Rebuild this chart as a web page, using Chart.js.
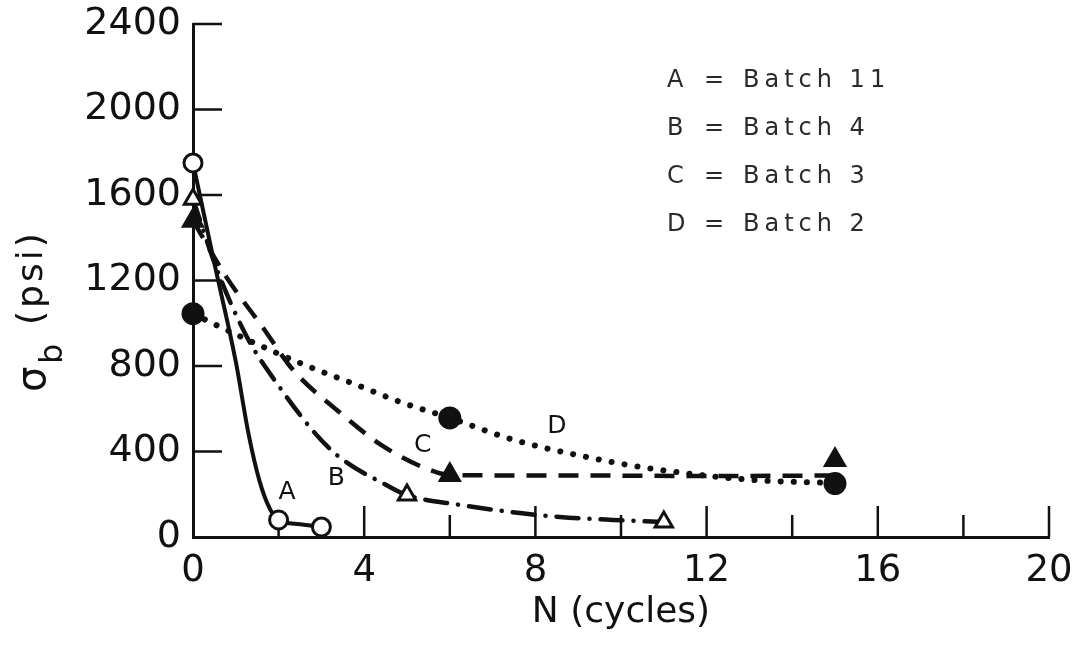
<!DOCTYPE html>
<html>
<head>
<meta charset="utf-8">
<script src="https://cdn.jsdelivr.net/npm/chart.js@4.4.1/dist/chart.umd.min.js"></script>
<style>
  body { margin: 0; background: #fff; }
  canvas { display: block; }
</style>
</head>
<body>
<canvas id="chart" width="1085" height="651"></canvas>
<script>
// curve keys and what they stand for
const seriesKeys = ['A', 'B', 'C', 'D'];
const batchNames = ['Batch 11', 'Batch 4', 'Batch 3', 'Batch 2'];

// measured points (markers), N in cycles, sigma_b in psi
const pointsA = [{x: 0, y: 1750}, {x: 2, y: 80}, {x: 3, y: 47}];
const pointsB = [{x: 0, y: 1580}, {x: 5, y: 196}, {x: 11, y: 70}];
const pointsC = [{x: 0, y: 1480}, {x: 6, y: 290}, {x: 15, y: 360}];
const pointsD = [{x: 0, y: 1045}, {x: 6, y: 557}, {x: 15, y: 250}];

// fitted curves
const curveA = [{x: 0, y: 1750}, {x: 0.5, y: 1280}, {x: 1.0, y: 820}, {x: 1.3, y: 480},
  {x: 1.55, y: 265}, {x: 1.8, y: 130}, {x: 2, y: 80}, {x: 2.5, y: 60}, {x: 3, y: 47}];
const curveB = [{x: 0, y: 1580}, {x: 0.6, y: 1230}, {x: 1.26, y: 936}, {x: 1.87, y: 744},
  {x: 3.2, y: 412}, {x: 4.6, y: 234}, {x: 5, y: 196}, {x: 6.24, y: 150}, {x: 7.64, y: 112},
  {x: 8.57, y: 94}, {x: 9.8, y: 80}, {x: 11, y: 70}];
const curveC = [{x: 0, y: 1480}, {x: 0.8, y: 1210}, {x: 1.64, y: 978}, {x: 2.34, y: 781},
  {x: 3.36, y: 594}, {x: 4.44, y: 425}, {x: 5.54, y: 313}, {x: 6, y: 290}, {x: 8, y: 288},
  {x: 10, y: 287}, {x: 12, y: 285}, {x: 15, y: 288}];
const curveD = [{x: 0, y: 1045}, {x: 0.63, y: 983}, {x: 2.5, y: 814}, {x: 3.83, y: 711},
  {x: 4.84, y: 632}, {x: 6, y: 557}, {x: 7.5, y: 454}, {x: 9.2, y: 374}, {x: 10.6, y: 323},
  {x: 13, y: 268}, {x: 15, y: 252}];

// where the curve letters sit, in data units
const curveLabelPos = [{x: 2.2, y: 210}, {x: 3.35, y: 276}, {x: 5.37, y: 426}, {x: 8.5, y: 515}];

// axis ticks
const xMajorTicks = [4, 8, 12, 16, 20];
const xMinorTicks = [2, 6, 10, 14, 18];
const yTicks = [400, 800, 1200, 1600, 2000, 2400];

const FONT = "'DejaVu Sans', 'Liberation Sans', sans-serif";
const INK = '#111';

const inwardTicks = {
  id: 'inwardTicks',
  beforeDatasetsDraw(chart) {
    const {ctx, scales: {x, y}} = chart;
    ctx.save();
    ctx.strokeStyle = INK;
    ctx.lineWidth = 2.5;
    ctx.beginPath();
    xMajorTicks.forEach(v => {
      const px = x.getPixelForValue(v);
      ctx.moveTo(px, y.bottom);
      ctx.lineTo(px, y.bottom - 31);
    });
    xMinorTicks.forEach(v => {
      const px = x.getPixelForValue(v);
      ctx.moveTo(px, y.bottom);
      ctx.lineTo(px, y.bottom - 22);
    });
    yTicks.forEach(v => {
      const py = y.getPixelForValue(v);
      ctx.moveTo(x.left, py);
      ctx.lineTo(x.left + 29, py);
    });
    ctx.stroke();
    ctx.restore();
  }
};

const textBits = {
  id: 'textBits',
  afterDraw(chart) {
    const {ctx, scales: {x, y}} = chart;
    ctx.save();
    ctx.fillStyle = INK;

    // letters next to the curves
    ctx.font = '25px ' + FONT;
    ctx.textAlign = 'center';
    ctx.textBaseline = 'middle';
    seriesKeys.forEach((k, i) => {
      const p = curveLabelPos[i];
      ctx.fillText(k, x.getPixelForValue(p.x), y.getPixelForValue(p.y));
    });

    // key in the upper right
    ctx.fillStyle = '#2a2a2a';
    ctx.font = '24px ' + FONT;
    ctx.textAlign = 'left';
    ctx.textBaseline = 'alphabetic';
    seriesKeys.forEach((k, i) => {
      const base = 87 + i * 48;
      ctx.letterSpacing = '0px';
      ctx.fillText(k, 667, base);
      ctx.fillText('=', 704, base);
      ctx.letterSpacing = '5px';
      ctx.fillText(batchNames[i], 743, base);
    });

    // y title: sigma with subscript b, then (psi)
    ctx.fillStyle = INK;
    ctx.letterSpacing = '0px';
    ctx.rotate(-Math.PI / 2);
    ctx.font = '40px ' + FONT;
    ctx.fillText('σ', -392, 45);
    ctx.font = '32px ' + FONT;
    ctx.fillText('b', -364, 62);
    ctx.font = '36px ' + FONT;
    ctx.letterSpacing = '3px';
    ctx.fillText('(psi)', -325, 42);
    ctx.restore();
  }
};

const lineSet = (data, dash, cap, width) => ({
  type: 'line',
  data: data,
  borderColor: INK,
  borderWidth: width,
  borderDash: dash,
  borderCapStyle: cap,
  pointRadius: 0,
  cubicInterpolationMode: 'monotone',
  fill: false,
  clip: false,
  order: 2
});

const markerSet = (data, style, filled, radius) => ({
  type: 'scatter',
  data: data,
  showLine: false,
  pointStyle: style,
  pointRadius: radius,
  pointBorderWidth: 3,
  pointBorderColor: INK,
  pointBackgroundColor: filled ? INK : '#fff',
  clip: false,
  order: 1
});

const plainNumber = (v) => String(v);

const ctx = document.getElementById('chart').getContext('2d');
const myChart = new Chart(ctx, {
  type: 'scatter',
  data: {
    datasets: [
      markerSet(pointsD, 'circle', true, 10),
      markerSet(pointsC, 'triangle', true, 11),
      markerSet(pointsB, 'triangle', false, 10),
      markerSet(pointsA, 'circle', false, 9),
      lineSet(curveA, [], 'butt', 4),
      lineSet(curveB, [22, 11, 0.1, 11], 'round', 4.5),
      lineSet(curveC, [20, 12], 'butt', 4.5),
      lineSet(curveD, [0.1, 13], 'round', 6)
    ]
  },
  options: {
    responsive: false,
    animation: false,
    devicePixelRatio: 1,
    layout: { padding: { left: 0, right: 36, top: 24, bottom: 0 } },
    plugins: {
      legend: { display: false },
      tooltip: { enabled: false }
    },
    scales: {
      x: {
        type: 'linear',
        min: 0,
        max: 20,
        afterFit: (scale) => {
          scale.height = 114;
          scale.paddingLeft = 0;
          scale.paddingRight = 0;
        },
        grid: { display: false, drawTicks: false },
        border: { display: true, color: INK, width: 3 },
        ticks: { stepSize: 4, padding: 12, color: INK, callback: plainNumber,
          font: { family: FONT, size: 37 } },
        title: {
          display: true,
          text: 'N (cycles)',
          color: INK,
          font: { family: FONT, size: 36 },
          padding: { top: 0, bottom: 17 }
        }
      },
      y: {
        min: 0,
        max: 2400,
        afterFit: (scale) => {
          scale.width = 193;
          scale.paddingTop = 0;
          scale.paddingBottom = 0;
        },
        grid: { display: false, drawTicks: false },
        border: { display: true, color: INK, width: 3 },
        ticks: { stepSize: 400, padding: 12, color: INK, callback: plainNumber,
          font: { family: FONT, size: 38 } }
      }
    }
  },
  plugins: [inwardTicks, textBits]
});
</script>
</body>
</html>
